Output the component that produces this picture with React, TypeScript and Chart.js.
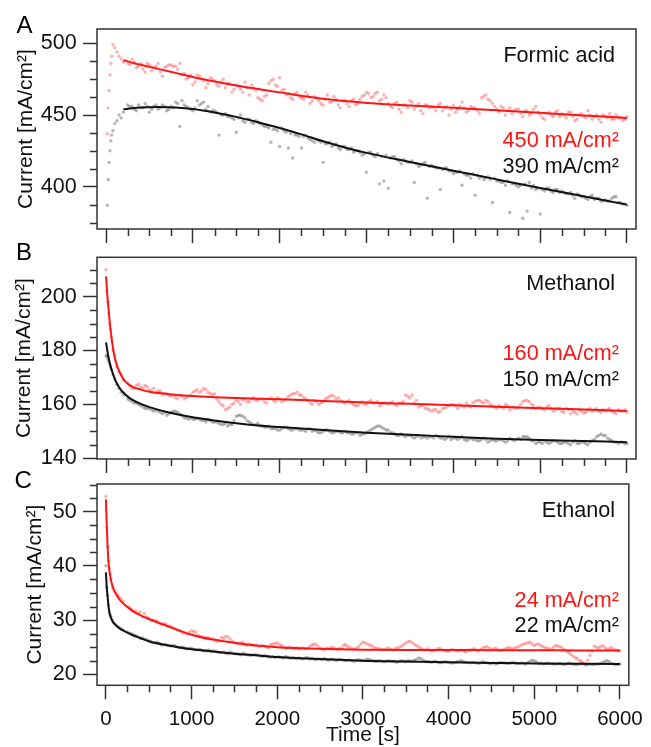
import React, { useEffect, useRef } from "react";
import { Chart, registerables } from "chart.js";

Chart.register(...registerables);
Chart.defaults.font.family = "'Liberation Sans', Arial, Helvetica, sans-serif";
Chart.defaults.color = "#111";

// ---------------- DATA ----------------
const xTickValues = [0, 1000, 2000, 3000, 4000, 5000, 6000];
const yTicksA = [400, 450, 500];
const yTicksB = [140, 160, 180, 200];
const yTicksC = [20, 30, 40, 50];

const timeTail = [
  250, 300, 350, 400, 450, 500, 550, 600, 650, 700,
  750, 800, 850, 900, 950, 1000, 1050, 1100, 1150, 1200,
  1250, 1300, 1350, 1400, 1450, 1500, 1550, 1600, 1650, 1700,
  1750, 1800, 1850, 1900, 1950, 2000, 2050, 2100, 2150, 2200,
  2250, 2300, 2350, 2400, 2450, 2500, 2550, 2600, 2650, 2700,
  2750, 2800, 2850, 2900, 2950, 3000, 3050, 3100, 3150, 3200,
  3250, 3300, 3350, 3400, 3450, 3500, 3550, 3600, 3650, 3700,
  3750, 3800, 3850, 3900, 3950, 4000, 4050, 4100, 4150, 4200,
  4250, 4300, 4350, 4400, 4450, 4500, 4550, 4600, 4650, 4700,
  4750, 4800, 4850, 4900, 4950, 5000, 5050, 5100, 5150, 5200,
  5250, 5300, 5350, 5400, 5450, 5500, 5550, 5600, 5650, 5700,
  5750, 5800, 5850, 5900, 5950, 6000,
];
const timeA = [15, 25, 35, 45, 55, 65, 80, 100, 125, 150, 175, 200, ...timeTail];
const timeBC = [0, 10, 20, 30, 40, 50, 60, 80, 100, 125, 150, 175, 200, ...timeTail];
const timeMid = [
  275, 325, 375, 425, 475, 525, 575, 625, 675, 725,
  775, 825, 875, 925, 975, 1025, 1075, 1125, 1175, 1225,
  1275, 1325, 1375, 1425, 1475, 1525, 1575, 1625, 1675, 1725,
  1775, 1825, 1875, 1925, 1975, 2025, 2075, 2125, 2175, 2225,
  2275, 2325, 2375, 2425, 2475, 2525, 2575, 2625, 2675, 2725,
  2775, 2825, 2875, 2925, 2975, 3025, 3075, 3125, 3175, 3225,
  3275, 3325, 3375, 3425, 3475, 3525, 3575, 3625, 3675, 3725,
  3775, 3825, 3875, 3925, 3975, 4025, 4075, 4125, 4175, 4225,
  4275, 4325, 4375, 4425, 4475, 4525, 4575, 4625, 4675, 4725,
  4775, 4825, 4875, 4925, 4975, 5025, 5075, 5125, 5175, 5225,
  5275, 5325, 5375, 5425, 5475, 5525, 5575, 5625, 5675, 5725,
  5775, 5825, 5875, 5925, 5975,
];

// Formic acid – 450 mA/cm2 (red) and 390 mA/cm2 (black) raw points
const formicRed = [
  437, 455, 467, 478, 486, 491, 499, 497, 494, 491, 489, 487,
  486, 489, 483, 486, 480, 485, 483, 486, 477, 484,
  485, 484, 486, 479, 476, 471, 478, 475, 469, 476,
  474, 470, 475, 472, 466, 471, 468, 473, 464, 469,
  462, 460, 464, 474, 471, 476, 468, 465, 461, 466,
  462, 466, 458, 463, 460, 457, 464, 459, 461, 455,
  460, 456, 461, 458, 463, 466, 462, 465, 460, 464,
  458, 455, 459, 452, 457, 460, 454, 458, 451, 457,
  456, 453, 458, 455, 450, 457, 454, 459, 452, 456,
  455, 451, 463, 461, 458, 454, 456, 450, 455, 453,
  454, 449, 453, 451, 456, 450, 447, 452, 449, 453,
  451, 448, 452, 446, 450, 449, 453, 447, 450, 445,
  449, 451, 447, 448, 446, 449,
];
const formicRedMid = [
  485, 487, 484, 482, 486, 481, 484, 480, 483, 485,
  484, 482, 478, 475, 478, 473, 477, 474, 472, 475,
  471, 473, 469, 472, 468, 470, 466, 469, 471, 467,
  461, 463, 472, 475, 470, 467, 464, 462, 465, 463,
  461, 464, 460, 462, 458, 461, 459, 463, 457, 460,
  458, 460, 457, 461, 464, 465, 463, 466, 461, 462,
  456, 458, 454, 457, 455, 459, 456, 453, 457, 455,
  455, 457, 453, 456, 454, 452, 456, 455, 453, 455,
  453, 462, 464, 460, 456, 452, 455, 453, 451, 454,
  451, 453, 450, 454, 452, 448, 451, 450, 452, 449,
  450, 452, 449, 447, 451, 448, 450, 449, 447, 450,
  448, 447, 450, 448, 447,
];
const formicBlack = [
  387, 405, 417, 425, 432, 436, 439, 444, 446, 450, 448, 452,
  457, 456, 453, 455, 458, 452, 456, 454, 457, 453,
  456, 459, 442, 457, 455, 453, 460, 458, 454, 452,
  453, 436, 450, 449, 448, 438, 450, 445, 447, 444,
  445, 443, 442, 431, 440, 428, 439, 427, 420, 436,
  427, 436, 433, 431, 432, 417, 430, 428, 430, 426,
  428, 426, 424, 425, 422, 410, 424, 421, 402, 404,
  399, 421, 419, 416, 418, 417, 403, 414, 416, 392,
  415, 413, 398, 413, 411, 409, 410, 401, 408, 406,
  394, 406, 405, 407, 389, 404, 403, 401, 382, 402,
  400, 378, 383, 399, 398, 381, 397, 399, 396, 398,
  397, 395, 396, 392, 394, 393, 391, 394, 392, 390,
  391, 390, 393, 389, 388, 387,
];
const formicBlackMid = [
  456, 454, 457, 455, 456, 454, 457, 455, 456, 454,
  455, 458, 460, 456, 454, 455, 457, 459, 456, 453,
  452, 450, 451, 449, 447, 448, 446, 447, 445, 446,
  444, 442, 441, 440, 439, 441, 438, 437, 436, 435,
  435, 434, 432, 433, 431, 430, 431, 429, 427, 428,
  426, 427, 425, 424, 423, 424, 422, 423, 421, 422,
  420, 421, 418, 419, 417, 418, 416, 415, 417, 414,
  414, 413, 412, 413, 411, 410, 411, 409, 408, 409,
  408, 407, 406, 405, 406, 404, 403, 404, 402, 401,
  401, 402, 403, 401, 399, 398, 399, 397, 398, 396,
  396, 395, 394, 395, 393, 392, 393, 391, 392, 390,
  390, 392, 393, 389, 388,
];

// Methanol – 160 mA/cm2 (red) and 150 mA/cm2 (black)
const methanolRed = [
  210, 202, 198, 194, 190, 188, 185, 180, 178, 174, 172, 171, 169,
  168, 166, 167, 166.5, 167, 165.5, 166, 165, 163.5, 164,
  163, 162.5, 163.5, 162, 163, 164.5, 165.5, 165, 165.5, 164,
  164, 161, 159.5, 158.5, 160, 161.5, 160, 162, 161, 162.5,
  161.5, 162, 160.5, 162.5, 161, 162, 161.5, 163, 164, 164.5,
  163.5, 162, 160.5, 161.5, 160, 161, 162.5, 163.5, 162, 161.5,
  160.5, 161.5, 160, 159.5, 161, 160, 161.5, 160.5, 159.5, 160.5,
  160, 161, 159.5, 160.5, 163.5, 162.5, 160.5, 159, 159.5, 158.5,
  157.5, 158, 157.5, 158.5, 159.5, 160, 158.5, 159.5, 160.5, 159,
  161, 161.5, 160.5, 161, 159.5, 158.5, 159, 160, 158, 159,
  159, 161, 161.5, 160, 158.5, 159, 158, 159.5, 157.5, 158.5,
  157.5, 158.5, 156.5, 157, 158, 156.8, 158, 157.5, 158.5, 157,
  157.5, 158.5, 157, 158, 157.5, 157,
];
const methanolRedMid = [
  167, 166, 167.5, 166, 166.5, 165, 164.5, 165, 164, 163.5,
  163.5, 162, 163, 162.5, 163.5, 165, 164.5, 166, 164.5, 163.5,
  162, 160, 158, 159, 160.5, 161, 161.5, 161, 162, 161.5,
  162, 161, 162, 161.5, 162.5, 161, 162, 163.5, 164, 163.5,
  162.5, 161.5, 160, 161, 160.5, 162, 163, 163, 162.5, 161,
  161, 160.5, 159.5, 160.5, 160, 161, 160.5, 161, 160, 160.5,
  160.5, 160, 160.5, 161, 163, 163.5, 161.5, 159.5, 158.5, 158,
  158, 157, 158.5, 159, 160, 159.5, 160, 159, 159.5, 160.5,
  161.5, 161, 161.5, 160, 159, 159.5, 158.5, 159.5, 159, 158.5,
  160, 161.5, 161, 159.5, 159, 158.5, 159, 158.5, 158, 158.5,
  157, 158, 157.5, 156.5, 157.5, 157, 158.5, 158, 157.5, 158,
  158, 157.5, 156.5, 157.5, 158,
];
const methanolBlack = [
  178, 178, 177, 176, 175, 174, 173, 171, 169.5, 167.5, 166, 164.5, 163.5,
  162, 161, 160.5, 159.5, 158.5, 158.5, 157.5, 157.5, 156.5, 156,
  157, 157.5, 156.5, 155, 154.5, 154.5, 155, 154, 153.5, 154,
  153.5, 153, 152.5, 152, 152.5, 155.5, 156, 155, 153.5, 152.5,
  153, 152, 151.5, 151, 151, 150.5, 151.5, 151, 150.5, 151,
  150.5, 150, 151, 150.5, 149.5, 150, 150.5, 149.5, 150, 149.5,
  150, 149.5, 149, 149.5, 149, 149.5, 150.5, 151.5, 152, 151,
  150.5, 149.5, 148.5, 149, 148, 148.5, 147.5, 148.5, 148, 147.5,
  148, 148.5, 147.5, 147, 148, 147.5, 147, 148, 146.5, 147.5,
  147, 146.5, 147.5, 146, 147, 146.5, 147, 146, 147.5, 146.5,
  147.5, 148, 148, 146.5, 145.5, 146, 146.5, 145.5, 146.5, 146,
  145.5, 146, 145, 146.5, 145.5, 146, 145, 146.5, 148, 149,
  148.5, 147, 146, 145.5, 146, 145.5,
];
const methanolBlackMid = [
  161.5, 160.5, 160, 159, 158.5, 158, 158, 157, 157, 156.5,
  157.5, 157, 156, 155, 155, 154.5, 154.5, 154, 154.5, 153.5,
  153.5, 152.5, 153, 152.5, 154, 156, 155.5, 154, 153, 152.5,
  152, 151.5, 152, 151, 150.5, 151, 151.5, 150.5, 151, 150.5,
  150.5, 151, 150, 150, 149.5, 150.5, 150, 149.5, 150, 149.5,
  149.5, 149, 149.5, 148.5, 149, 150, 151, 152, 151.5, 150.5,
  149.5, 149, 148.5, 148.5, 148.5, 148, 148, 147.5, 148, 148,
  147.5, 148, 147.5, 147.5, 147, 147.5, 147.5, 147, 147, 147,
  146.5, 147, 147, 146.5, 146.5, 147, 146.5, 146.5, 147, 147,
  147, 148, 147.5, 146.5, 146, 145.5, 146, 146, 146.5, 145.5,
  146, 145.5, 146, 145.5, 146, 145.5, 146, 147, 148.5, 148.5,
  147.5, 146.5, 146, 146, 145.5,
];

// Ethanol – 24 mA/cm2 (red) and 22 mA/cm2 (black)
const ethanolRed = [
  52.8, 47, 43.5, 41, 39.5, 38.5, 37.5, 36, 35.5, 35, 34.5, 34, 33.5,
  32.5, 32, 31.7, 31.5, 31.2, 30.4, 30, 29.8, 29.2, 29.3,
  28.9, 28.5, 28.1, 27.6, 27.4, 28, 27.8, 27, 26.7, 26.8,
  26.5, 26.1, 26.8, 27, 26.5, 25.8, 25.6, 25.9, 25.3, 25.5,
  25.4, 25.1, 25.2, 24.9, 25.6, 25.8, 25.3, 24.8, 25, 24.7,
  24.6, 24.9, 24.7, 25.4, 25.6, 24.8, 24.5, 24.7, 25, 24.6,
  24.8, 25.5, 24.9, 24.6, 25.1, 25.9, 25.6, 25.3, 24.8, 24.7,
  24.6, 24.9, 24.5, 24.8, 25.2, 25.8, 26.1, 25.5, 25, 24.6,
  24.7, 24.3, 24.5, 24.8, 24.4, 24.2, 24.6, 24.3, 24.5, 24.1,
  24.4, 24.7, 24.3, 24.9, 25.1, 24.6, 24.8, 24.4, 24.6, 24.9,
  24.7, 25, 25.4, 25.7, 25.9, 25.3, 25.6, 25.1, 24.8, 24.6,
  25.3, 25.1, 24.6, 24, 23.4, 22.9, 22.4, 21.9, 23.5, 25.2,
  24.8, 25.3, 24.6, 24.9, 24.5, 24.3,
];
const ethanolRedMid = [
  32.3, 31.6, 31.2, 30.6, 30.6, 29.9, 29.9, 29.4, 29.4, 28.8,
  28.7, 28.2, 27.9, 27.6, 27.7, 27.9, 27.2, 26.9, 26.7, 26.5,
  26.3, 26.2, 26.6, 26.9, 26.1, 25.7, 25.8, 25.5, 25.6, 25.3,
  25.2, 25.3, 25, 25.5, 25.7, 25.5, 25, 24.9, 24.8, 24.9,
  24.8, 24.7, 25.1, 25.5, 25.2, 24.6, 24.8, 24.9, 24.7, 24.8,
  25.3, 25.1, 24.7, 24.8, 25.6, 25.8, 25.4, 25, 24.7, 24.6,
  24.7, 24.6, 24.7, 25, 25.5, 26, 25.8, 25.3, 24.8, 24.5,
  24.5, 24.4, 24.7, 24.5, 24.3, 24.5, 24.4, 24.4, 24.3, 24.5,
  24.6, 24.5, 24.6, 25, 24.8, 24.7, 24.6, 24.5, 24.8, 24.8,
  24.9, 25.2, 25.6, 25.8, 25.6, 25.5, 25.3, 24.9, 24.7, 25,
  25.2, 24.9, 24.3, 23.7, 23.1, 22.6, 22.1, 22.6, 24.3, 25,
  25.1, 24.9, 24.7, 24.6, 24.4,
];
const ethanolBlack = [
  40, 36, 34.5, 32.8, 31.5, 31, 30.6, 29.9, 29.4, 29, 28.7, 28.4, 28.2,
  27.8, 27.5, 27.1, 26.6, 26.5, 26.2, 25.8, 25.9, 25.4, 25.5,
  25.2, 25.3, 24.9, 25, 24.7, 24.8, 24.5, 24.6, 24.3, 24.5,
  24.3, 24.1, 24, 23.9, 24.1, 23.8, 23.7, 23.9, 23.6, 23.5,
  23.6, 23.4, 23.5, 23.2, 23.3, 23.2, 23.1, 23.3, 22.9, 23,
  23, 22.8, 23.1, 22.9, 22.7, 22.8, 22.9, 22.6, 22.8, 22.6,
  22.7, 22.5, 22.6, 22.4, 22.7, 22.5, 22.8, 22.6, 22.4, 22.5,
  22.3, 22.5, 22.4, 22.2, 22.5, 22.3, 22.4, 22.6, 23, 22.6,
  22.3, 22.2, 22.4, 22.1, 22.3, 22.2, 22.1, 22.3, 22.5, 22.2,
  22.1, 22.2, 22, 22.3, 22.1, 22, 21.9, 22.2, 22.1, 22,
  22.2, 22, 22.1, 21.9, 22.4, 22.5, 22, 21.9, 22.1, 22,
  21.9, 22, 21.8, 22.1, 21.9, 21.8, 22, 21.7, 21.9, 21.8,
  21.9, 22.2, 22.5, 22, 21.8, 21.9,
];
const ethanolBlackMid = [
  27.6, 27.3, 26.9, 26.7, 26.4, 26, 25.8, 25.7, 25.5, 25.3,
  25.3, 25.1, 25, 24.8, 24.8, 24.6, 24.6, 24.4, 24.4, 24.3,
  24.2, 24, 24.1, 23.8, 23.9, 23.8, 23.6, 23.7, 23.5, 23.6,
  23.5, 23.3, 23.3, 23.2, 23.1, 23.2, 23, 23.1, 23, 22.9,
  22.9, 23, 22.8, 22.8, 22.8, 22.7, 22.7, 22.7, 22.6, 22.7,
  22.6, 22.6, 22.5, 22.6, 22.6, 22.6, 22.7, 22.5, 22.5, 22.4,
  22.4, 22.4, 22.3, 22.4, 22.4, 22.5, 22.4, 22.8, 22.9, 22.4,
  22.3, 22.3, 22.2, 22.2, 22.3, 22.1, 22.2, 22.4, 22.3, 22.2,
  22.2, 22.1, 22.1, 22.2, 22, 22.1, 22, 22.1, 22, 22.1,
  22.1, 22, 22, 22.2, 22.6, 22.3, 22.1, 22, 22, 21.9,
  22, 21.9, 21.9, 22, 21.8, 21.9, 21.9, 21.8, 21.8, 21.9,
  22, 22.4, 22.3, 21.9, 21.8,
];

// Fitted curves
const fitTimesA = [200, 300, 400, 500, 600, 700, 800, 1000, 1250, 1500, 1750, 2000, 2250, 2500, 2750, 3000, 3500, 4000, 4500, 5000, 5500, 6000];
const fitFormicRed = [488.4, 486.5, 485, 483.6, 482.2, 480.8, 479.4, 476.5, 473.4, 470.6, 468.1, 465.8, 463.4, 461.3, 459.7, 458.4, 456.7, 455, 453.3, 451.5, 449.7, 448];
const fitFormicBlack = [454, 454.8, 455.3, 455.5, 455.6, 455.5, 455.3, 454.2, 451.8, 448.7, 445, 441, 436.5, 431.7, 427.4, 423.6, 417.3, 411.2, 405.1, 399.1, 393.3, 387.5];

const fitTimesBC = [0, 10, 20, 30, 40, 50, 60, 80, 100, 125, 150, 175, 200, 250, 300, 400, 500, 700, 1000, 1250, 1500, 1750, 2000, 2500, 3000, 3500, 4000, 4500, 5000, 5500, 6000];
const fitMethanolRed = [207.5, 203, 198.5, 195, 191.5, 188.3, 185.5, 181, 177.5, 174.5, 172.5, 170.8, 169.4, 167.7, 166.6, 165.5, 164.7, 163.9, 163.1, 162.7, 162.4, 162.1, 161.9, 161.3, 160.7, 160.2, 159.7, 159.1, 158.6, 158.1, 157.6];
const fitMethanolBlack = [183, 181, 179, 177.3, 175.8, 174.5, 173.3, 171.3, 169.6, 167.8, 166.4, 165.3, 164.4, 162.9, 161.8, 160.2, 159, 157.2, 155.2, 154, 153, 152.2, 151.6, 150.5, 149.5, 148.7, 148, 147.3, 146.8, 146.4, 146];
const fitEthanolRed = [52.3, 47.5, 43.5, 40.8, 39.2, 38.1, 37.3, 36.1, 35.3, 34.6, 34, 33.5, 33.1, 32.4, 31.8, 30.9, 30.2, 29, 27.3, 26.4, 25.8, 25.3, 25, 24.7, 24.55, 24.5, 24.5, 24.45, 24.45, 24.4, 24.4];
const fitEthanolBlack = [38.8, 36, 34.3, 32.6, 31.5, 30.8, 30.4, 29.7, 29.3, 28.9, 28.6, 28.3, 28.1, 27.7, 27.3, 26.7, 26.1, 25.4, 24.6, 24.2, 23.8, 23.5, 23.2, 22.8, 22.5, 22.35, 22.2, 22.1, 22, 21.95, 21.9];

// ---------------- LAYOUT ----------------
const W = 651;
const H = 747;
const PLOT_LEFT = 97;
const PLOT_RIGHT = 636;
const X_MIN = -104;
const X_MAX = 6104;
const FRAME = "#333";
const RED = "#ff1414";
const DOT_RED = "rgba(255,70,70,0.42)";
const DOT_GRAY = "rgba(80,80,80,0.42)";

type Panel = {
  times: number[];
  red: number[];
  black: number[];
  redMid: number[];
  blackMid: number[];
  fitTimes: number[];
  fitRed: number[];
  fitBlack: number[];
  yMin: number;
  yMax: number;
  yTicks: number[];
  yMinorStep: number;
  top: number;
  bottom: number;
  axisBottom: number;
  showXLabels: boolean;
  yTitlePad: number;
  letter: string;
  letterX: number;
  letterBase: number;
  name: string;
  nameBase: number;
  redText: string;
  redBase: number;
  blackText: string;
  blackBase: number;
};

const panels: Panel[] = [
  {
    times: timeA, red: formicRed, black: formicBlack, redMid: formicRedMid, blackMid: formicBlackMid,
    fitTimes: fitTimesA, fitRed: fitFormicRed, fitBlack: fitFormicBlack,
    yMin: 370.5, yMax: 510, yTicks: yTicksA, yMinorStep: 12.5,
    top: 29, bottom: 229, axisBottom: 250, showXLabels: false, yTitlePad: 14,
    letter: "A", letterX: 16.5, letterBase: 33.3,
    name: "Formic acid", nameBase: 62.3,
    redText: "450 mA/cm²", redBase: 147.3, blackText: "390 mA/cm²", blackBase: 173.3,
  },
  {
    times: timeBC, red: methanolRed, black: methanolBlack, redMid: methanolRedMid, blackMid: methanolBlackMid,
    fitTimes: fitTimesBC, fitRed: fitMethanolRed, fitBlack: fitMethanolBlack,
    yMin: 139.74, yMax: 214.6, yTicks: yTicksB, yMinorStep: 5,
    top: 257.3, bottom: 459, axisBottom: 480, showXLabels: false, yTitlePad: 12,
    letter: "B", letterX: 16, letterBase: 260,
    name: "Methanol", nameBase: 290,
    redText: "160 mA/cm²", redBase: 360, blackText: "150 mA/cm²", blackBase: 385.7,
  },
  {
    times: timeBC, red: ethanolRed, black: ethanolBlack, redMid: ethanolRedMid, blackMid: ethanolBlackMid,
    fitTimes: fitTimesBC, fitRed: fitEthanolRed, fitBlack: fitEthanolBlack,
    yMin: 17.97, yMax: 55.1, yTicks: yTicksC, yMinorStep: 2.5,
    top: 484, bottom: 685.3, axisBottom: 747, showXLabels: true, yTitlePad: 23,
    letter: "C", letterX: 14.5, letterBase: 488.3,
    name: "Ethanol", nameBase: 517.3,
    redText: "24 mA/cm²", redBase: 606.7, blackText: "22 mA/cm²", blackBase: 631.7,
  },
];

function toXY(xs: number[], ys: number[]) {
  return xs.map((x, i) => ({ x, y: ys[i] }));
}

function makePlugin(p: Panel) {
  return {
    id: "panelDecor" + p.letter,
    afterDraw(chart: any) {
      const { ctx, chartArea: a, scales } = chart;
      const xs = scales.x;
      const ys = scales.y;
      ctx.save();
      ctx.strokeStyle = FRAME;
      ctx.lineWidth = 1.5;
      ctx.strokeRect(a.left, a.top, a.right - a.left, a.bottom - a.top);
      ctx.beginPath();
      for (let v = 0; v <= 6000; v += 250) {
        if (v % 1000 === 0) continue;
        const px = Math.round(xs.getPixelForValue(v)) + 0.5;
        ctx.moveTo(px, a.bottom);
        ctx.lineTo(px, a.bottom + 7);
      }
      const start = Math.ceil(p.yMin / p.yMinorStep - 1e-9) * p.yMinorStep;
      for (let v = start; v <= p.yMax + 1e-9; v += p.yMinorStep) {
        if (p.yTicks.some((t) => Math.abs(t - v) < 1e-6)) continue;
        const py = Math.round(ys.getPixelForValue(v)) + 0.5;
        ctx.moveTo(a.left - 7, py);
        ctx.lineTo(a.left, py);
      }
      ctx.stroke();
      ctx.textAlign = "right";
      ctx.textBaseline = "alphabetic";
      ctx.font = "21.6px 'Liberation Sans', Arial, sans-serif";
      ctx.fillStyle = "#111";
      ctx.fillText(p.name, 615, p.nameBase);
      ctx.fillStyle = RED;
      ctx.fillText(p.redText, 619, p.redBase);
      ctx.fillStyle = "#111";
      ctx.fillText(p.blackText, 619, p.blackBase);
      ctx.textAlign = "left";
      ctx.font = "24px 'Liberation Sans', Arial, sans-serif";
      ctx.fillStyle = "#000";
      ctx.fillText(p.letter, p.letterX, p.letterBase);
      ctx.restore();
    },
  };
}

function dots(data: { x: number; y: number }[], color: string) {
  return {
    data,
    pointRadius: 1.7,
    pointBorderWidth: 0,
    pointBackgroundColor: color,
    pointBorderColor: "rgba(0,0,0,0)",
    order: 1,
  };
}

function makeChart(canvas: HTMLCanvasElement, p: Panel) {
  const xAxisHeight = p.axisBottom - p.bottom;
  return new Chart(canvas, {
    type: "scatter",
    data: {
      datasets: [
        {
          data: toXY(p.fitTimes, p.fitRed),
          showLine: true,
          borderColor: RED,
          borderWidth: 2,
          pointRadius: 0,
          cubicInterpolationMode: "monotone",
          order: 0,
        } as any,
        {
          data: toXY(p.fitTimes, p.fitBlack),
          showLine: true,
          borderColor: "#111",
          borderWidth: 2,
          pointRadius: 0,
          cubicInterpolationMode: "monotone",
          order: 0,
        } as any,
        dots(toXY(p.times, p.red), DOT_RED),
        dots(toXY(timeMid, p.redMid), DOT_RED),
        dots(toXY(p.times, p.black), DOT_GRAY),
        dots(toXY(timeMid, p.blackMid), DOT_GRAY),
      ],
    },
    options: {
      responsive: false,
      animation: false,
      events: [],
      layout: {
        padding: { top: p.top, right: W - PLOT_RIGHT, bottom: H - p.axisBottom, left: 0 },
      },
      plugins: { legend: { display: false }, tooltip: { enabled: false } },
      scales: {
        x: {
          type: "linear",
          min: X_MIN,
          max: X_MAX,
          afterBuildTicks: (ax: any) => {
            ax.ticks = xTickValues.map((v) => ({ value: v }));
          },
          afterFit: (ax: any) => {
            ax.height = xAxisHeight;
          },
          grid: {
            display: true,
            drawOnChartArea: false,
            drawTicks: true,
            tickLength: 14,
            tickWidth: 1.5,
            tickColor: FRAME,
            color: FRAME,
          },
          border: { display: false },
          ticks: {
            display: p.showXLabels,
            padding: 8,
            maxRotation: 0,
            autoSkip: false,
            color: "#111",
            font: { size: 20.5 },
            callback: (v: any) => String(v),
          },
          title: {
            display: p.showXLabels,
            text: "Time [s]",
            color: "#111",
            font: { size: 21 },
            padding: { top: 0, bottom: -1 },
          },
        },
        y: {
          type: "linear",
          min: p.yMin,
          max: p.yMax,
          afterBuildTicks: (ax: any) => {
            ax.ticks = p.yTicks.map((v) => ({ value: v }));
          },
          afterFit: (ax: any) => {
            ax.width = PLOT_LEFT;
          },
          grid: {
            display: true,
            drawOnChartArea: false,
            drawTicks: true,
            tickLength: 14,
            tickWidth: 1.5,
            tickColor: FRAME,
            color: FRAME,
          },
          border: { display: false },
          ticks: {
            padding: 6.3,
            color: "#111",
            font: { size: 21.5 },
            callback: (v: any) => String(v),
          },
          title: {
            display: true,
            text: "Current [mA/cm²]",
            color: "#111",
            font: { size: 21 },
            padding: { top: p.yTitlePad, bottom: 0 },
          },
        },
      },
    } as any,
    plugins: [makePlugin(p)],
  });
}

export default function App() {
  const refs = [useRef<HTMLCanvasElement>(null), useRef<HTMLCanvasElement>(null), useRef<HTMLCanvasElement>(null)];
  useEffect(() => {
    const charts = panels.map((p, i) => makeChart(refs[i].current as HTMLCanvasElement, p));
    return () => charts.forEach((c) => c.destroy());
  }, []);
  return (
    <div
      style={{
        position: "absolute",
        left: 0,
        top: 0,
        width: W,
        height: H,
        overflow: "hidden",
        background: "#fff",
      }}
    >
      {refs.map((r, i) => (
        <canvas
          key={i}
          ref={r}
          width={W}
          height={H}
          style={{ position: "absolute", left: 0, top: 0, width: W, height: H }}
        />
      ))}
    </div>
  );
}
